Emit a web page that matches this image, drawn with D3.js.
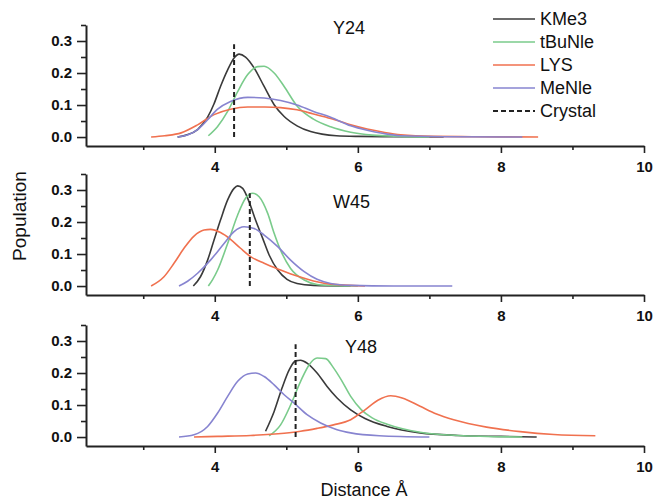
<!DOCTYPE html>
<html>
<head>
<meta charset="utf-8">
<script src="https://cdn.jsdelivr.net/npm/d3@7"></script>
<style>
  body { margin: 0; background: #fff; }
  text { font-family: "Liberation Sans", Arial, sans-serif; fill: #111; }
</style>
</head>
<body>
<div id="chart"></div>
<script>
// residue panels, series names and crystal distances
var panels = ['Y24', 'W45', 'Y48'];
var series = ['KMe3', 'tBuNle', 'LYS', 'MeNle'];
var crystal = [4.27, 4.49, 5.13];
var crystalTop = 0.29;

var xTicks = [4, 6, 8, 10];
var xMinor = [3, 5, 7, 9];
var yTicks = [0, 0.1, 0.2, 0.3];
var yMinor = [0.05, 0.15, 0.25, 0.35];

// [distance, population]
var y24KMe3 = [[3.48,0],[3.6,0.006],[3.76,0.023],[3.9,0.062],[3.99,0.104],[4.08,0.158],[4.18,0.21],[4.27,0.247],[4.34,0.259],[4.43,0.25],[4.55,0.216],[4.69,0.158],[4.83,0.101],[4.97,0.064],[5.15,0.035],[5.34,0.017],[5.5,0.009],[5.7,0.004],[6.0,0.002],[6.5,0.001],[7.2,0]];
var y24TBuNle = [[3.91,0.004],[4.04,0.033],[4.18,0.08],[4.32,0.142],[4.46,0.195],[4.6,0.22],[4.69,0.221],[4.83,0.2],[4.97,0.158],[5.15,0.097],[5.38,0.056],[5.62,0.032],[5.9,0.015],[6.2,0.006],[6.6,0.002],[7.0,0]];
var y24LYS = [[3.11,0],[3.3,0.004],[3.53,0.013],[3.76,0.038],[3.99,0.07],[4.22,0.087],[4.46,0.094],[4.7,0.094],[4.92,0.092],[5.15,0.085],[5.38,0.072],[5.62,0.058],[5.9,0.038],[6.13,0.025],[6.36,0.015],[6.6,0.007],[7.06,0.002],[7.6,0.001],[8.52,0]];
var y24MeNle = [[3.48,0],[3.62,0.006],[3.76,0.023],[3.9,0.054],[4.04,0.087],[4.22,0.111],[4.46,0.124],[4.69,0.122],[4.92,0.114],[5.15,0.1],[5.38,0.08],[5.62,0.062],[5.9,0.035],[6.13,0.021],[6.36,0.011],[6.6,0.004],[7.2,0.001],[8.3,0]];

var w45KMe3 = [[3.7,0],[3.8,0.029],[3.9,0.081],[3.99,0.144],[4.08,0.206],[4.18,0.269],[4.27,0.305],[4.32,0.313],[4.39,0.305],[4.48,0.263],[4.57,0.206],[4.67,0.149],[4.76,0.097],[4.88,0.05],[5.01,0.021],[5.15,0.008],[5.38,0.002],[5.9,0]];
var w45TBuNle = [[3.91,0],[3.97,0.02],[4.04,0.05],[4.18,0.133],[4.32,0.222],[4.43,0.274],[4.53,0.29],[4.62,0.279],[4.74,0.227],[4.83,0.165],[4.92,0.112],[5.06,0.055],[5.25,0.019],[5.43,0.005],[5.7,0.001],[6.0,0]];
var w45LYS = [[3.11,0],[3.29,0.029],[3.43,0.071],[3.57,0.118],[3.71,0.156],[3.85,0.175],[3.94,0.177],[4.08,0.167],[4.22,0.146],[4.36,0.118],[4.5,0.092],[4.69,0.071],[4.92,0.05],[5.15,0.031],[5.38,0.016],[5.62,0.006],[6.1,0]];
var w45MeNle = [[3.5,0],[3.62,0.015],[3.76,0.04],[3.94,0.081],[4.13,0.133],[4.27,0.17],[4.41,0.185],[4.55,0.18],[4.69,0.159],[4.88,0.123],[5.06,0.081],[5.25,0.045],[5.43,0.021],[5.62,0.008],[5.9,0.002],[6.5,0],[7.32,0]];

var y48KMe3 = [[4.71,0.018],[4.83,0.08],[4.94,0.153],[5.04,0.21],[5.13,0.238],[5.2,0.24],[5.29,0.231],[5.43,0.2],[5.57,0.158],[5.71,0.122],[5.9,0.085],[6.1,0.058],[6.41,0.033],[6.87,0.013],[7.4,0.005],[8.0,0.002],[8.5,0]];
var y48TBuNle = [[4.76,0.004],[4.92,0.038],[5.06,0.1],[5.2,0.174],[5.32,0.226],[5.43,0.247],[5.55,0.245],[5.66,0.216],[5.78,0.174],[5.9,0.127],[6.05,0.085],[6.2,0.06],[6.41,0.04],[6.87,0.015],[7.4,0.005],[8.3,0]];
var y48LYS = [[3.71,0],[4.04,0.002],[4.5,0.005],[4.97,0.012],[5.2,0.018],[5.43,0.027],[5.66,0.038],[5.9,0.054],[6.1,0.085],[6.28,0.115],[6.46,0.129],[6.62,0.122],[6.87,0.096],[7.1,0.072],[7.34,0.054],[7.8,0.031],[8.27,0.017],[8.74,0.008],[9.32,0.004]];
var y48MeNle = [[3.5,0],[3.71,0.007],[3.9,0.033],[4.04,0.075],[4.18,0.127],[4.32,0.174],[4.46,0.197],[4.57,0.2],[4.69,0.189],[4.83,0.163],[4.97,0.132],[5.11,0.106],[5.29,0.07],[5.48,0.044],[5.71,0.023],[5.9,0.013],[6.3,0.004],[7.0,0]];

var curves = [
  [y24KMe3, y24TBuNle, y24LYS, y24MeNle],
  [w45KMe3, w45TBuNle, w45LYS, w45MeNle],
  [y48KMe3, y48TBuNle, y48LYS, y48MeNle]
];

var colors = ['#3a3a3a', '#7acb8b', '#f0714f', '#8784d0'];

var width = 654, height = 502;
var left = 86, right = 644;
var panelTop = [25, 174, 325];
var panelH = 121;
var titlePos = [[333, 28], [333, 202], [345, 347]];

var svg = d3.select('#chart').append('svg')
    .attr('width', width)
    .attr('height', height);

var x = d3.scaleLinear().domain([2.2, 10]).range([left, right]);
var y = d3.scaleLinear().domain([-0.028, 0.35]).range([panelH, 0]);

var line = d3.line()
    .x(function(d) { return x(d[0]); })
    .y(function(d) { return y(d[1]); })
    .curve(d3.curveMonotoneX);

panels.forEach(function(name, i) {
  var g = svg.append('g').attr('transform', 'translate(0,' + panelTop[i] + ')');

  curves[i].forEach(function(pts, j) {
    g.append('path')
      .attr('d', line(pts))
      .attr('fill', 'none')
      .attr('stroke', colors[j])
      .attr('stroke-width', 1.6);
  });

  g.append('line')
    .attr('x1', x(crystal[i])).attr('x2', x(crystal[i]))
    .attr('y1', y(0)).attr('y2', y(crystalTop))
    .attr('stroke', '#222')
    .attr('stroke-width', 2)
    .attr('stroke-dasharray', '5,3');

  // minor ticks first, then labelled axes over them
  g.append('g')
    .attr('transform', 'translate(0,' + panelH + ')')
    .call(d3.axisBottom(x).tickValues(xMinor).tickSize(4).tickSizeOuter(0).tickFormat(''))
    .call(function(a) { a.select('.domain').remove(); });
  g.append('g')
    .attr('transform', 'translate(' + left + ',0)')
    .call(d3.axisLeft(y).tickValues(yMinor).tickSize(5).tickSizeOuter(0).tickFormat(''))
    .call(function(a) { a.select('.domain').remove(); });

  var xa = g.append('g')
    .attr('class', 'axis')
    .attr('transform', 'translate(0,' + panelH + ')')
    .call(d3.axisBottom(x).tickValues(xTicks).tickSize(7).tickSizeOuter(0).tickPadding(8).tickFormat(d3.format('d')));
  var ya = g.append('g')
    .attr('class', 'axis')
    .attr('transform', 'translate(' + left + ',0)')
    .call(d3.axisLeft(y).tickValues(yTicks).tickSize(9).tickSizeOuter(0).tickPadding(5).tickFormat(d3.format('.1f')));

  g.selectAll('.domain').attr('stroke', '#222').attr('stroke-width', 2);
  g.selectAll('.tick line').attr('stroke', '#222').attr('stroke-width', 1.6);
  g.selectAll('.axis text')
    .attr('font-size', 15)
    .attr('font-weight', 'bold')
    .attr('font-family', '"Liberation Sans", Arial, sans-serif')
    .attr('fill', '#222');

  svg.append('text')
    .attr('x', titlePos[i][0])
    .attr('y', titlePos[i][1])
    .attr('dominant-baseline', 'central')
    .attr('font-size', 18)
    .text(name);
});

// legend
var legendNames = series.concat(['Crystal']);
var legend = svg.append('g');
legendNames.forEach(function(name, k) {
  var ly = 19 + k * 23;
  legend.append('line')
    .attr('x1', 493).attr('x2', 535)
    .attr('y1', ly).attr('y2', ly)
    .attr('stroke', k < 4 ? colors[k] : '#222')
    .attr('stroke-width', k < 4 ? 1.6 : 2)
    .attr('stroke-dasharray', k < 4 ? null : '5,3');
  legend.append('text')
    .attr('x', 540)
    .attr('y', ly)
    .attr('dominant-baseline', 'central')
    .attr('font-size', 18)
    .text(name);
});

svg.append('text')
  .attr('transform', 'translate(19,216) rotate(-90)')
  .attr('text-anchor', 'middle')
  .attr('dominant-baseline', 'central')
  .attr('font-size', 19)
  .text('Population');

svg.append('text')
  .attr('x', 364)
  .attr('y', 496)
  .attr('text-anchor', 'middle')
  .attr('font-size', 18)
  .text('Distance Å');
</script>
</body>
</html>
